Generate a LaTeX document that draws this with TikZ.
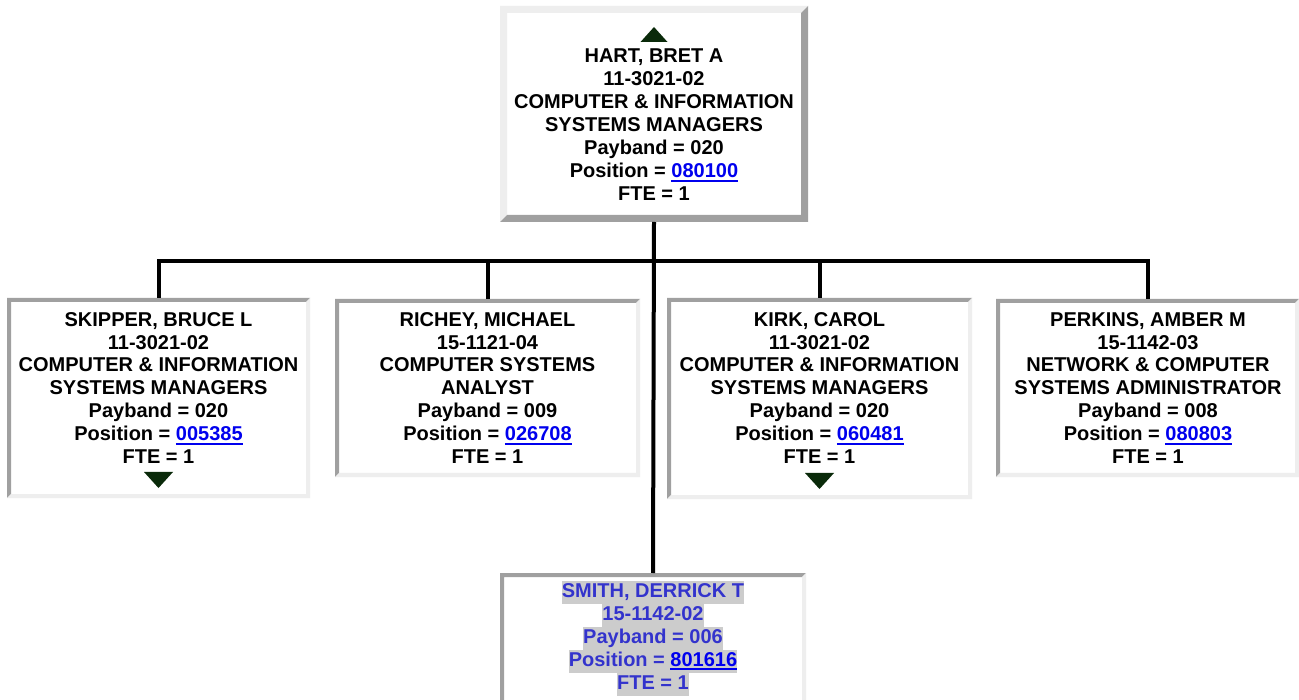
\documentclass[tikz,border=0pt]{standalone}
\usepackage{fontspec}
\setmainfont{Liberation Sans}
\definecolor{lightbev}{HTML}{EEEEEE}
\definecolor{darkbev}{HTML}{A0A0A0}
\definecolor{trigreen}{HTML}{0A2A0A}
\definecolor{linkblue}{HTML}{0000EE}
\definecolor{smithblue}{HTML}{3333CC}
\definecolor{hlgray}{HTML}{CCCCCC}
\newcommand{\lnk}[1]{{\color{linkblue}\setbox0\hbox{#1}\rlap{\rule[-3.6pt]{\wd0}{1.8pt}}\box0}}
\newcommand{\hl}[1]{{\setlength{\fboxsep}{0pt}\colorbox{hlgray}{\strut #1}}}
% #1 node, #2 top-left colour, #3 bottom-right colour, #4 width
\newcommand{\bevel}[4]{%
  \fill[#2] (#1.south west) -- (#1.north west) -- (#1.north east)
    -- ([shift={(-#4,#4)}]#1.north east) -- ([shift={(#4,#4)}]#1.north west)
    -- ([shift={(#4,-#4)}]#1.south west) -- cycle;
  \fill[#3] (#1.south west) -- (#1.south east) -- (#1.north east)
    -- ([shift={(-#4,#4)}]#1.north east) -- ([shift={(-#4,-#4)}]#1.south east)
    -- ([shift={(#4,-#4)}]#1.south west) -- cycle;}
\tikzset{
  conn/.style={line width=4pt, draw=black},
  boxarea/.style={rectangle, fill=white, inner sep=0pt, outer sep=0pt},
  lbl/.style={align=center, inner sep=0pt, outer sep=0pt, anchor=north,
    font=\fontsize{20}{23}\selectfont\bfseries},
  tri/.style={fill=trigreen},
}
\begin{document}
\begin{tikzpicture}[x=1pt,y=-1pt]
\useasboundingbox[fill=white] (0,0) rectangle (1299,700);
% boxes
\node[boxarea, minimum width=308pt, minimum height=216pt] (hart) at (654,114) {};
\node[boxarea, minimum width=303pt, minimum height=200pt] (skipper) at (158.5,398) {};
\node[boxarea, minimum width=305pt, minimum height=178pt] (richey) at (487.5,388) {};
\node[boxarea, minimum width=305pt, minimum height=201pt] (kirk) at (819.5,398.5) {};
\node[boxarea, minimum width=303pt, minimum height=178pt] (perkins) at (1147.5,388) {};
\node[boxarea, minimum width=306pt, minimum height=157pt] (smith) at (653,651.5) {};
\bevel{hart}{lightbev}{darkbev}{7}
\bevel{skipper}{darkbev}{lightbev}{4}
\bevel{richey}{darkbev}{lightbev}{4}
\bevel{kirk}{darkbev}{lightbev}{4}
\bevel{perkins}{darkbev}{lightbev}{4}
\bevel{smith}{darkbev}{lightbev}{4}
% connectors
\coordinate (bar) at (654,261);
\draw[conn] (hart.south) -- (smith.north);
\draw[conn] (skipper.north) -- (skipper.north |- bar) -- (perkins.north |- bar) -- (perkins.north);
\draw[conn] (richey.north) -- (richey.north |- bar);
\draw[conn] (kirk.north) -- (kirk.north |- bar);
% triangles
\fill[tri] ([shift={(0,21)}]hart.north) -- ([shift={(-13.5,36)}]hart.north) -- ([shift={(13.5,36)}]hart.north) -- cycle;
\fill[tri] ([shift={(-14.5,-26)}]skipper.south) -- ([shift={(14.5,-26)}]skipper.south) -- ([shift={(0,-10)}]skipper.south) -- cycle;
\fill[tri] ([shift={(-14.5,-26)}]kirk.south) -- ([shift={(14.5,-26)}]kirk.south) -- ([shift={(0,-10)}]kirk.south) -- cycle;
% texts
\node[lbl] (hartT) at (654,46.9) {\strut HART, BRET A\\11-3021-02\\COMPUTER \& INFORMATION\\SYSTEMS MANAGERS\\Payband = 020\\Position = \lnk{080100}\\FTE = 1};
\node[lbl] (skipperT) at (158.5,309.9) {\strut SKIPPER, BRUCE L\\11-3021-02\\COMPUTER \& INFORMATION\\SYSTEMS MANAGERS\\Payband = 020\\Position = \lnk{005385}\\FTE = 1};
\node[lbl] (richeyT) at (487.5,309.9) {\strut RICHEY, MICHAEL\\15-1121-04\\COMPUTER SYSTEMS\\ANALYST\\Payband = 009\\Position = \lnk{026708}\\FTE = 1};
\node[lbl] (kirkT) at (819.5,309.9) {\strut KIRK, CAROL\\11-3021-02\\COMPUTER \& INFORMATION\\SYSTEMS MANAGERS\\Payband = 020\\Position = \lnk{060481}\\FTE = 1};
\node[lbl] (perkinsT) at (1148,309.9) {\strut PERKINS, AMBER M\\15-1142-03\\NETWORK \& COMPUTER\\SYSTEMS ADMINISTRATOR\\Payband = 008\\Position = \lnk{080803}\\FTE = 1};
\node[lbl, text=smithblue] (smithT) at (653,580.9) {\hl{SMITH, DERRICK T}\\\hl{15-1142-02}\\\hl{Payband = 006}\\\hl{Position = \lnk{801616}}\\\hl{FTE = 1}};
\end{tikzpicture}
\end{document}
